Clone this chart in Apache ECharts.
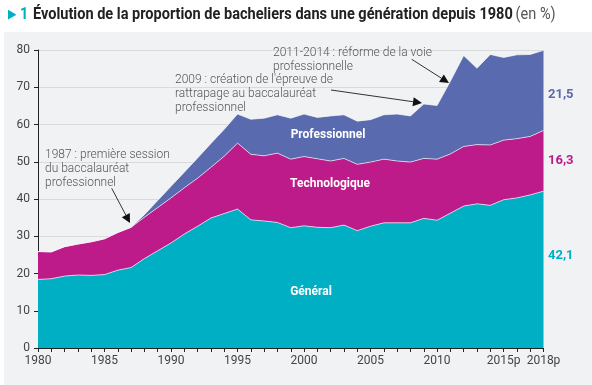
<!DOCTYPE html>
<html><head><meta charset="utf-8">
<script src="https://cdn.jsdelivr.net/npm/echarts@6/dist/echarts.min.js"></script>
<style>
html,body{margin:0;padding:0;background:#fff;width:592px;height:385px;overflow:hidden}
#bg{position:absolute;left:4px;top:32px;width:588px;height:353px;background:#f1f2f4}
#c{position:absolute;left:0;top:0;width:592px;height:385px}
</style></head>
<body><div id="bg"></div><div id="c"></div>
<script>
const years = ['1980','1981','1982','1983','1984','1985','1986','1987','1988','1989',
  '1990','1991','1992','1993','1994','1995','1996','1997','1998','1999',
  '2000','2001','2002','2003','2004','2005','2006','2007','2008','2009',
  '2010','2011','2012','2013','2014','2015p','2016','2017','2018p'];
const general = [18.4,18.6,19.3,19.6,19.5,19.7,20.9,21.6,24.0,26.1,
  28.2,30.6,32.7,34.9,36.1,37.3,34.4,34.1,33.7,32.3,
  32.8,32.4,32.3,33.0,31.5,32.7,33.6,33.6,33.6,34.8,
  34.3,36.2,38.1,38.7,38.3,39.8,40.3,41.1,42.1];
const techno = [7.5,7.2,7.9,8.3,9.0,9.6,10.1,10.8,11.1,11.6,
  12.1,12.4,12.9,13.6,15.4,17.7,17.6,17.5,18.6,18.4,
  18.6,18.4,17.9,17.9,17.8,17.2,17.1,16.6,16.3,16.1,
  16.4,15.9,16.0,15.9,16.2,16.0,15.9,15.7,16.3];
const pro = [0,0,0,0,0,0,0,0,0.7,1.9,
  3.1,4.2,5.4,6.4,7.2,7.8,9.4,10.1,10.3,11.0,
  11.4,11.1,12.1,11.7,11.6,11.4,11.9,12.6,12.4,14.6,
  14.4,19.5,24.4,20.5,24.3,22.2,22.5,22.0,21.5];
const endValues = ['21,5','16,3','42,1'];
const yTicks = [0,10,20,30,40,50,60,70,80];

const C_GEN = '#00afc3', C_TEC = '#bc1b89', C_PRO = '#5a6aaf';
const FONT = 'Roboto, "Noto Sans", sans-serif';

function arrow(x1,y1,x2,y2){
  const a = Math.atan2(y2-y1,x2-x1), L=9, W=4.5;
  const bx = x2 - L*Math.cos(a), by = y2 - L*Math.sin(a);
  const px = -Math.sin(a)*W, py = Math.cos(a)*W;
  return [
    {type:'line', shape:{x1:x1,y1:y1,x2:bx,y2:by}, style:{stroke:'#333',lineWidth:1}, z:100},
    {type:'polygon', shape:{points:[[x2,y2],[bx+px,by+py],[bx-px,by-py]]}, style:{fill:'#111'}, z:100}
  ];
}
function txt(x,y,text,style){
  return {type:'text', x:x, y:y, z:100, style:Object.assign({text:text, fontFamily:FONT}, style)};
}
const annStyle = {fill:'#555', fontSize:12, lineHeight:14, fontWeight:300};

const chart = echarts.init(document.getElementById('c'), null, {renderer:'canvas'});
const areaSeries = (name, data, color) => ({
  name: name, type:'line', stack:'total', data:data, symbol:'none', smooth:false,
  lineStyle:{color:'#ffffff', width:0.8, opacity:0.8},
  areaStyle:{color:color, opacity:1}, itemStyle:{color:color}
});
chart.setOption({
  animation:false,
  textStyle:{fontFamily:FONT},
  grid:{left:38, right:48.5, top:50, bottom:37, containLabel:false},
  xAxis:{
    type:'category', data:years, boundaryGap:false,
    axisLine:{lineStyle:{color:'#222', width:1}},
    axisTick:{show:true, interval:0, length:4, lineStyle:{color:'#222'}},
    axisLabel:{interval:(i)=> i%5===0 || i===years.length-1, color:'#444', fontSize:12, margin:7, fontFamily:FONT},
    splitLine:{show:false}
  },
  yAxis:{
    type:'value', min:yTicks[0], max:yTicks[yTicks.length-1], interval:10,
    axisLine:{show:true, lineStyle:{color:'#222', width:1}},
    axisTick:{show:true, length:4, lineStyle:{color:'#222'}},
    axisLabel:{color:'#444', fontSize:12, margin:8, fontFamily:FONT},
    splitLine:{show:true, lineStyle:{color:'#d9dadc', width:1}}
  },
  series:[
    areaSeries('Général', general, C_GEN),
    areaSeries('Technologique', techno, C_TEC),
    areaSeries('Professionnel', pro, C_PRO)
  ],
  graphic:[].concat(
    {type:'group', x:8, y:15, scaleX:0.85, children:[
      {type:'text', x:0, y:0, style:{
        text:'{a|▶}{n|1}',
        verticalAlign:'middle',
        rich:{
          a:{fill:C_GEN, fontSize:13, fontFamily:FONT},
          n:{fill:C_GEN, fontSize:17, fontWeight:'bold', fontFamily:FONT, padding:[0,0,0,4]}
        }}}
    ]},
    {type:'group', x:33, y:15, scaleX:0.855, children:[
      {type:'text', x:0, y:0, style:{
        text:'{b|Évolution de la proportion de bacheliers dans une génération depuis 1980} {c|(en %)}',
        verticalAlign:'middle',
        rich:{
          b:{fill:'#222', fontSize:17, fontWeight:'bold', fontFamily:FONT},
          c:{fill:'#555', fontSize:17, fontFamily:FONT}
        }}}
    ]},
    txt(328,135,'Professionnel',{fill:'#fff', fontSize:12, fontWeight:'bold', align:'center', verticalAlign:'middle'}),
    txt(330,184,'Technologique',{fill:'#fff', fontSize:12, fontWeight:'bold', align:'center', verticalAlign:'middle'}),
    txt(311,292,'Général',{fill:'#fff', fontSize:12, fontWeight:'bold', align:'center', verticalAlign:'middle'}),
    txt(548,95,endValues[0],{fill:C_PRO, fontSize:13, fontWeight:'bold', verticalAlign:'middle'}),
    txt(548,161,endValues[1],{fill:C_TEC, fontSize:13, fontWeight:'bold', verticalAlign:'middle'}),
    txt(548,256,endValues[2],{fill:C_GEN, fontSize:13, fontWeight:'bold', verticalAlign:'middle'}),
    txt(45,148,'1987 : première session\ndu baccalauréat\nprofessionnel',annStyle),
    txt(175,73,'2009 : création de l\'épreuve de\nrattrapage au baccalauréat\nprofessionnel',annStyle),
    txt(273,46,'2011-2014 : réforme de la voie\nprofessionnelle',annStyle),
    arrow(111.7,188.3,130,223),
    arrow(331,90,422,103),
    arrow(411.7,59.3,449,83)
  )
});
</script></body></html>
